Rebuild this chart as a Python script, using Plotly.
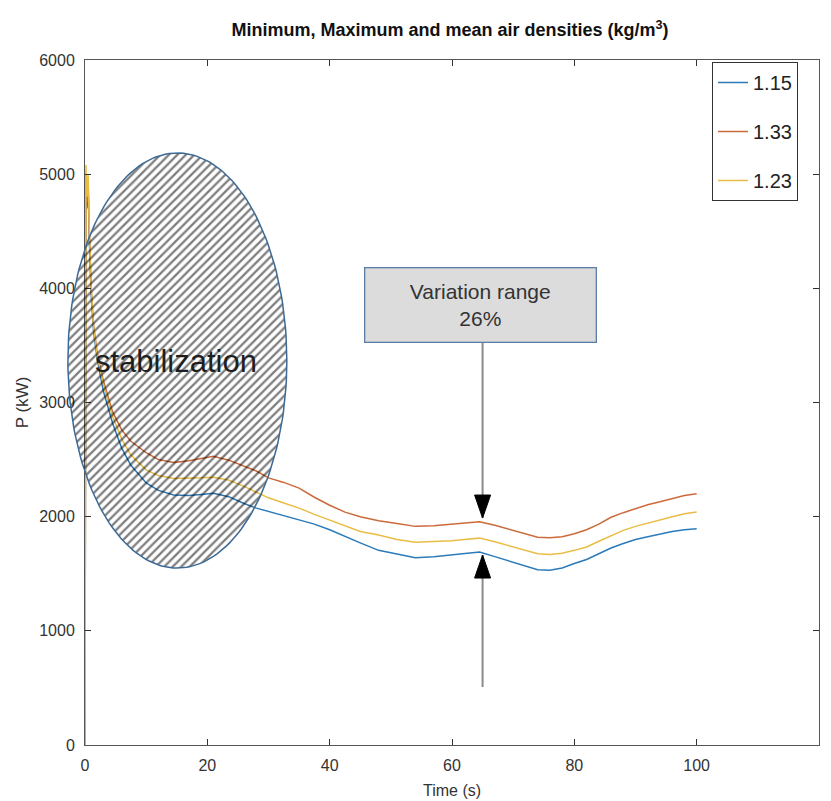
import numpy as np
import plotly.graph_objects as go

# ---------------- data ----------------
time_s = [0, 0.15, 0.3, 0.5, 0.7, 1.0, 1.4, 2, 3, 4.5, 6, 7.5, 10, 12, 14.5, 17, 19, 21, 23.5,
          26, 28, 30, 32.5, 35, 37.5, 40, 42.5, 45, 48, 51, 54, 57, 60, 62, 64.5, 67, 70, 72,
          74, 76, 78, 80, 82, 84, 86, 88, 90, 92, 94, 96, 98, 100]

p_115 = [0, 4950, 4700, 4900, 4450, 3950, 3620, 3380, 3100, 2820, 2600, 2450, 2295, 2230, 2190,
         2185, 2195, 2205, 2175, 2115, 2075, 2045, 2010, 1975, 1935, 1885, 1825, 1770, 1705,
         1670, 1640, 1650, 1665, 1675, 1690, 1650, 1600, 1565, 1535, 1530, 1550, 1590, 1625,
         1675, 1725, 1765, 1800, 1825, 1850, 1870, 1885, 1895]

p_133 = [0, 5000, 4750, 4950, 4500, 4000, 3680, 3430, 3190, 2920, 2760, 2660, 2560, 2500, 2475,
         2490, 2510, 2530, 2495, 2440, 2400, 2340, 2300, 2250, 2170, 2100, 2040, 2000, 1965,
         1940, 1915, 1920, 1935, 1945, 1955, 1925, 1880, 1845, 1820, 1815, 1825, 1850, 1885,
         1935, 1995, 2035, 2070, 2105, 2130, 2160, 2185, 2200]

p_123 = [0, 5080, 4800, 5000, 4550, 4020, 3660, 3410, 3160, 2880, 2680, 2540, 2410, 2360, 2335,
         2335, 2340, 2345, 2320, 2265, 2215, 2165, 2120, 2075, 2020, 1970, 1920, 1870, 1840,
         1800, 1775, 1780, 1790, 1800, 1812, 1780, 1735, 1700, 1675, 1668, 1680, 1705, 1735,
         1785, 1835, 1880, 1915, 1945, 1970, 2000, 2025, 2040]

series_names = ["1.15", "1.33", "1.23"]
series_values = [p_115, p_133, p_123]
series_colors = ["#2b7bba", "#cc6a3c", "#e9bd45"]

x_ticks = [0, 20, 40, 60, 80, 100, 120]
y_ticks = [0, 1000, 2000, 3000, 4000, 5000, 6000]

# annotation parameters (data units)
ellipse_center = (15.1, 3368)
ellipse_radii = (17.9, 1818)
arrow_x = 65.0
box_center = (64.6, 3858)
upper_arrow = (3521, 1988)   # from box bottom down to tip
lower_arrow = (508, 1664)    # from bottom up to tip
head_len = 23

# ---------------- layout geometry ----------------
# page has an 8px body margin, so the figure is 8px smaller than the window
W, H = 823, 793
ml, mr, mt, mb = 52, 12, 52, 56
plot_w = W - ml - mr
plot_h = H - mt - mb
d0 = (77 - ml) / plot_w          # main x-domain start
x_max = 120
x2_lo = -x_max * d0 / (1 - d0)

fig = go.Figure()

for name, vals, col in zip(series_names, series_values, series_colors):
    fig.add_trace(go.Scatter(
        x=time_s, y=vals, mode="lines", name=name,
        line=dict(color=col, width=1.5),
        legendgroup=name, xaxis="x", yaxis="y"))

# hatched ellipse on an overlay subplot that extends past the y axis
th = np.linspace(0, 2 * np.pi, 200)
ex = ellipse_center[0] + ellipse_radii[0] * np.cos(th)
ey = ellipse_center[1] + ellipse_radii[1] * np.sin(th)
fig.add_trace(go.Scatter(
    x=ex, y=ey, mode="lines", fill="toself", showlegend=False, hoverinfo="skip",
    line=dict(color="#3d6a95", width=1.5),
    fillcolor="rgba(0,0,0,0)",
    fillpattern=dict(shape="/", fgcolor="#000000", bgcolor="rgba(0,0,0,0)",
                     size=6, solidity=0.38),
    xaxis="x2", yaxis="y2"))

axis_common = dict(showgrid=False, zeroline=False, showline=True, linecolor="#555555",
                   linewidth=1, ticks="inside", ticklen=6, tickcolor="#333333",
                   mirror="ticks", tickfont=dict(size=16, color="#333333"))

fig.update_layout(
    width=W, height=H,
    margin=dict(l=ml, r=mr, t=mt, b=mb),
    paper_bgcolor="white", plot_bgcolor="rgba(0,0,0,0)",
    font=dict(family="Liberation Sans, Arial, sans-serif", color="#222222"),
    title=dict(text="<b>Minimum, Maximum and mean air densities (kg/m<sup>3</sup>)</b>",
               xref="container", x=442 / W, xanchor="center",
               yref="container", y=1 - 22 / H, yanchor="middle",
               font=dict(size=18, color="#111111")),
    xaxis=dict(domain=[d0, 1], range=[0, x_max], tickvals=x_ticks,
               title=dict(text="Time (s)", font=dict(size=16, color="#333333"), standoff=11),
               ticklabelstandoff=6, automargin=False, **axis_common),
    yaxis=dict(domain=[0, 1], range=[0, 6000], tickvals=y_ticks, anchor="x",
               title=dict(text="P (kW)", font=dict(size=17, color="#333333"), standoff=6),
               ticklabelstandoff=6, automargin=False, **axis_common),
    xaxis2=dict(domain=[0, 1], range=[x2_lo, x_max], visible=False, anchor="y2"),
    yaxis2=dict(domain=[0, 1], range=[0, 6000], visible=False, anchor="x2"),
    legend=dict(x=(704 - ml) / plot_w, y=1 - (54 - mt) / plot_h,
                xanchor="left", yanchor="top",
                bordercolor="#333333", borderwidth=1, bgcolor="white",
                font=dict(size=20, color="#222222"),
                itemwidth=30, tracegroupgap=20, traceorder="grouped",
                entrywidth=80),
    showlegend=True,
)

# "stabilization" label
fig.add_annotation(x=14.9, y=3355, xref="x", yref="y", text="stabilization",
                   showarrow=False, font=dict(size=31, color="#1e1e1e"),
                   xanchor="center", yanchor="middle")

# Variation range box
fig.add_annotation(x=box_center[0], y=box_center[1], xref="x", yref="y",
                   text="Variation range<br>26%", showarrow=False,
                   font=dict(size=21, color="#333333"),
                   bgcolor="#dcdcdc", bordercolor="#5a7ea6", borderwidth=1.3,
                   width=228, height=71, align="center", valign="middle")

# arrow shafts
fig.add_shape(type="line", xref="x", yref="y", x0=arrow_x, x1=arrow_x,
              y0=upper_arrow[0], y1=upper_arrow[1], line=dict(color="#8a8a8a", width=2))
fig.add_shape(type="line", xref="x", yref="y", x0=arrow_x, x1=arrow_x,
              y0=lower_arrow[0], y1=lower_arrow[1], line=dict(color="#8a8a8a", width=2))
# arrow heads (pixel-sized triangles anchored at the tips)
fig.add_shape(type="path", xref="x", yref="y", xsizemode="pixel", ysizemode="pixel",
              xanchor=arrow_x, yanchor=upper_arrow[1],
              path=f"M0,0 L-8,{head_len} L8,{head_len} Z",
              fillcolor="black", line=dict(color="black", width=1))
fig.add_shape(type="path", xref="x", yref="y", xsizemode="pixel", ysizemode="pixel",
              xanchor=arrow_x, yanchor=lower_arrow[1],
              path=f"M0,0 L-8,{-head_len} L8,{-head_len} Z",
              fillcolor="black", line=dict(color="black", width=1))

fig.write_html("out.html")
